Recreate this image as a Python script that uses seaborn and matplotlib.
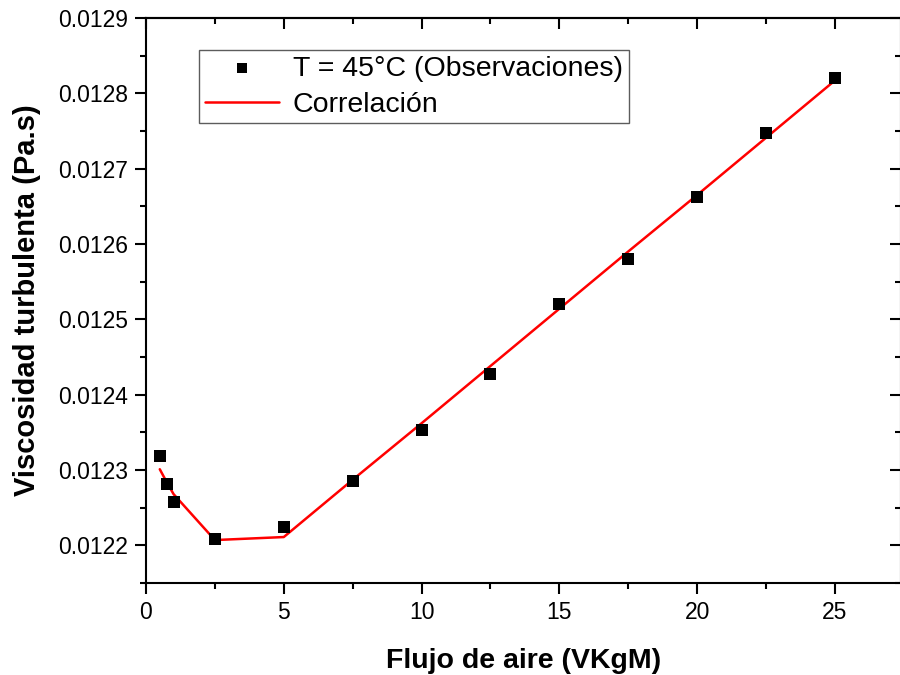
import matplotlib
matplotlib.use("Agg")
import matplotlib.pyplot as plt
from matplotlib.ticker import MultipleLocator, FormatStrFormatter
import seaborn as sns
import pandas as pd

# Data
flujo = [0.5, 0.75, 1.0, 2.5, 5.0, 7.5, 10.0, 12.5, 15.0, 17.5, 20.0, 22.5, 25.0]
obs = [0.012319, 0.012281, 0.012257, 0.012209, 0.012225, 0.012285, 0.012353,
       0.012428, 0.012521, 0.012580, 0.012663, 0.012748, 0.012821]
corr = [0.012301, 0.012284, 0.012268, 0.012207, 0.012211, 0.012287, 0.012362,
        0.012438, 0.012514, 0.012590, 0.012665, 0.012741, 0.012817]

sns.set_style("ticks")
plt.rcParams['font.family'] = ['Liberation Sans', 'DejaVu Sans']
plt.rcParams['text.color'] = 'black'
plt.rcParams['axes.labelcolor'] = 'black'
plt.rcParams['xtick.color'] = 'black'
plt.rcParams['ytick.color'] = 'black'

df = pd.DataFrame({"x": flujo, "obs": obs, "corr": corr})

fig = plt.figure(figsize=(9, 6.75), dpi=100)
ax = fig.add_axes([146/900, 1-583/675, (901-146)/900, (583-18)/675])

sns.scatterplot(data=df, x="x", y="obs", ax=ax, marker="s", s=80, color="black",
                edgecolor="black", linewidth=0, label="T = 45°C (Observaciones)", zorder=3)
sns.lineplot(data=df, x="x", y="corr", ax=ax, color="#ff0000", linewidth=1.8,
             label="Correlación", zorder=2)

ax.set_xlim(0, 27.4)
ax.set_ylim(0.01215, 0.0129)
ax.xaxis.set_major_locator(MultipleLocator(5))
ax.xaxis.set_minor_locator(MultipleLocator(2.5))
ax.yaxis.set_major_locator(MultipleLocator(0.0001))
ax.yaxis.set_minor_locator(MultipleLocator(0.00005))
ax.yaxis.set_major_formatter(FormatStrFormatter('%.4f'))

for s in ax.spines.values():
    s.set_linewidth(1.5)
    s.set_color("black")

ax.tick_params(which="major", direction="out", length=8, width=1.5, labelsize=16.5,
               colors="black", pad=5)
ax.tick_params(which="minor", direction="out", length=4, width=1.5)
ax.tick_params(which="both", top=False, right=False)

# inward ticks on top and right via secondary axes
axt = ax.secondary_xaxis('top')
axt.xaxis.set_major_locator(MultipleLocator(5))
axt.xaxis.set_minor_locator(MultipleLocator(2.5))
axt.tick_params(which="major", direction="in", length=8, width=1.5, labeltop=False)
axt.tick_params(which="minor", direction="in", length=4, width=1.5)
axr = ax.secondary_yaxis('right')
axr.yaxis.set_major_locator(MultipleLocator(0.0001))
axr.yaxis.set_minor_locator(MultipleLocator(0.00005))
axr.tick_params(which="major", direction="in", length=8, width=1.5, labelright=False)
axr.tick_params(which="minor", direction="in", length=4, width=1.5)
for a in (axt, axr):
    for s in a.spines.values():
        s.set_linewidth(1.5)

ax.set_xlabel("Flujo de aire (VKgM)", fontsize=20.5, fontweight="bold", labelpad=17)
ax.set_ylabel("Viscosidad turbulenta (Pa.s)", fontsize=21, fontweight="bold", labelpad=12)

leg = ax.legend(loc="upper left", bbox_to_anchor=((199-146)/755, 1-(50-18)/565),
                fontsize=20.5, frameon=True, fancybox=False, edgecolor="#333333",
                borderpad=0.2, handlelength=2.6, handletextpad=0.5, labelspacing=0.35,
                borderaxespad=0, markerscale=0.8)
leg.get_frame().set_linewidth(1.0)

fig.savefig("out.png", dpi=100)
